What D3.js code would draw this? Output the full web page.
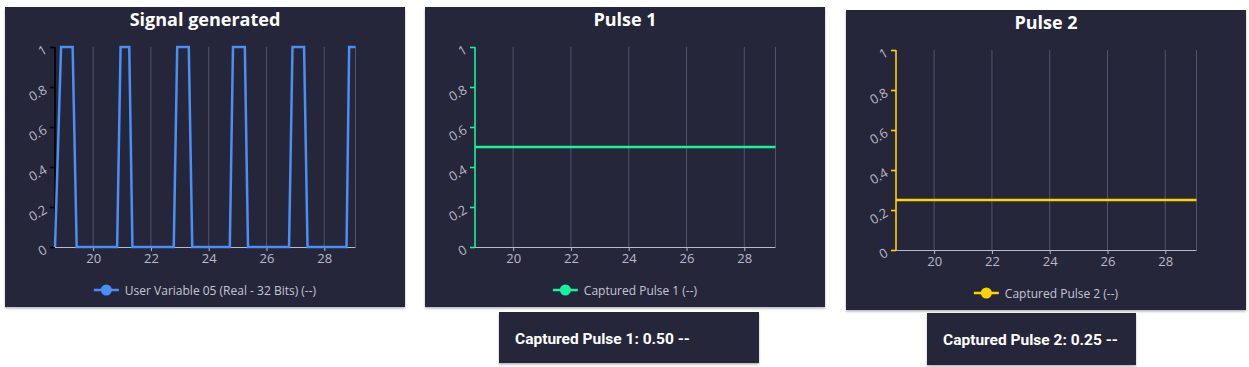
<!DOCTYPE html>
<html>
<head>
<meta charset="utf-8">
<script src="https://cdn.jsdelivr.net/npm/d3@7"></script>
<style>
  html, body { margin: 0; padding: 0; background: #ffffff; }
  svg { display: block; }
  .title { font-family: "Open Sans", "Noto Sans", sans-serif; font-weight: 700; font-size: 18px; fill: #ffffff; }
  .tick text { font-family: "Open Sans", "Noto Sans", sans-serif; font-size: 13px; fill: #b8bac8; }
  .legend { font-family: "Open Sans", "Noto Sans", sans-serif; font-size: 12px; fill: #c4c6d2; }
  .value { font-family: Roboto, sans-serif; font-weight: 700; font-size: 15.5px; fill: #ffffff; }
</style>
</head>
<body>
<div id="root"></div>
<script>
// Dados
const xDomain = [18.68, 29.08];
const xTicks = [20, 22, 24, 26, 28];
const yTicks = [0, 0.2, 0.4, 0.6, 0.8, 1];

const signalTime   = [18.68, 18.89, 19.29, 19.43, 20.83, 20.95, 21.25, 21.36, 22.79, 22.91, 23.31, 23.43,
                      24.73, 24.84, 25.25, 25.36, 26.78, 26.90, 27.30, 27.42, 28.77, 28.86, 29.08];
const signalValues = [0, 1, 1, 0, 0, 1, 1, 0, 0, 1, 1, 0,
                      0, 1, 1, 0, 0, 1, 1, 0, 0, 1, 1];

const pulse1Time   = [18.68, 29.08];
const pulse1Values = [0.5, 0.5];
const pulse2Time   = [18.68, 29.08];
const pulse2Values = [0.25, 0.25];

const panels = [
  { title: 'Signal generated', legend: 'User Variable 05 (Real - 32 Bits) (--)', t: signalTime, v: signalValues,
    color: '#4a8ff5', axisColor: '#000000', left: 5, top: 7 },
  { title: 'Pulse 1', legend: 'Captured Pulse 1 (--)', t: pulse1Time, v: pulse1Values,
    color: '#17f29e', axisColor: '#17f29e', left: 425, top: 7,
    box: { x: 499, y: 312, w: 260, h: 51, text: 'Captured Pulse 1: 0.50 --' } },
  { title: 'Pulse 2', legend: 'Captured Pulse 2 (--)', t: pulse2Time, v: pulse2Values,
    color: '#ffd200', axisColor: '#ffd200', left: 846, top: 10,
    box: { x: 927, y: 313, w: 209, h: 52, text: 'Captured Pulse 2: 0.25 --' } }
];

const W = 1249, H = 367;
const PW = 400, PH = 300;
const m = { top: 40, left: 50, right: 49.5, bottom: 60 };
const BG = '#25283b';

const svg = d3.select('#root').append('svg').attr('width', W).attr('height', H);

const defs = svg.append('defs');
const f = defs.append('filter').attr('id', 'sh').attr('x', '-5%').attr('y', '-5%').attr('width', '110%').attr('height', '115%');
f.append('feDropShadow').attr('dx', 0).attr('dy', 1.5).attr('stdDeviation', 1.2).attr('flood-color', '#000').attr('flood-opacity', 0.3);

panels.forEach(p => {
  const g = svg.append('g').attr('transform', `translate(${p.left},${p.top})`);
  g.append('rect').attr('width', PW).attr('height', PH).attr('fill', BG).attr('filter', 'url(#sh)');

  g.append('text').attr('class', 'title')
    .attr('x', PW / 2).attr('y', 19).attr('text-anchor', 'middle').text(p.title);

  const x = d3.scaleLinear().domain(xDomain).range([m.left, PW - m.right]);
  const y = d3.scaleLinear().domain([0, 1]).range([PH - m.bottom, m.top]);

  // grade vertical
  g.append('g').selectAll('line').data(xTicks.concat([xDomain[1]])).join('line')
    .attr('x1', d => x(d)).attr('x2', d => x(d))
    .attr('y1', y(1)).attr('y2', y(0))
    .attr('stroke', '#50536a').attr('stroke-width', 1);

  // eixo X
  const xa = g.append('g').attr('transform', `translate(0,${y(0)})`)
    .call(d3.axisBottom(x).tickValues(xTicks).tickSize(4).tickPadding(3).tickFormat(d3.format('d')));
  xa.select('.domain').attr('stroke', '#b8bacb').attr('d', `M${x(xDomain[0])},0.5H${x(xDomain[1])}`);
  xa.selectAll('.tick line').attr('stroke', '#b8bacb');

  // eixo Y
  const ya = g.append('g').attr('transform', `translate(${x(xDomain[0])},0)`)
    .call(d3.axisLeft(y).tickValues(yTicks).tickSize(5).tickPadding(6).tickFormat(d => d3.format('~g')(d)));
  ya.select('.domain').attr('stroke', p.axisColor).attr('stroke-width', 1.6).attr('d', `M0,${y(1)}V${y(0)}`);
  ya.selectAll('.tick line').attr('stroke', p.axisColor).attr('stroke-width', 1.6);
  ya.selectAll('.tick text')
    .attr('x', null).attr('dy', null)
    .attr('text-anchor', 'end')
    .attr('transform', 'translate(-7,5) rotate(-30)');

  // série
  const pts = p.t.map((t, i) => [t, p.v[i]]);
  g.append('path').datum(pts)
    .attr('fill', 'none').attr('stroke', p.color).attr('stroke-width', 2.5)
    .attr('stroke-linejoin', 'miter')
    .attr('d', d3.line().x(d => x(d[0])).y(d => y(d[1])));

  // legenda
  const lg = g.append('g').attr('transform', `translate(0,283)`);
  const lt = lg.append('text').attr('class', 'legend').attr('y', 4.5).text(p.legend);
  const tw = lt.node().getComputedTextLength();
  const total = 25 + 6 + tw;
  const sx = PW / 2 - total / 2;
  lg.append('line').attr('x1', sx).attr('x2', sx + 25).attr('y1', 0).attr('y2', 0)
    .attr('stroke', p.color).attr('stroke-width', 2.5);
  lg.append('circle').attr('cx', sx + 12.5).attr('cy', 0).attr('r', 5.5).attr('fill', p.color);
  lt.attr('x', sx + 31);

  // caixa de valor
  if (p.box) {
    const b = p.box;
    svg.append('rect').attr('x', b.x).attr('y', b.y).attr('width', b.w).attr('height', b.h)
      .attr('fill', BG).attr('filter', 'url(#sh)');
    svg.append('text').attr('class', 'value').attr('x', b.x + 16).attr('y', b.y + 32).text(b.text);
  }
});
</script>
</body>
</html>
